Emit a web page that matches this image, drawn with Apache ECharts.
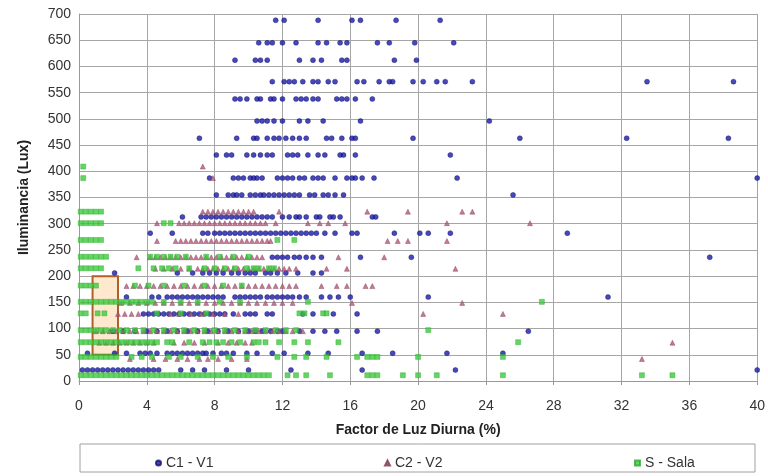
<!DOCTYPE html>
<html>
<head>
<meta charset="utf-8">
<script src="https://cdn.jsdelivr.net/npm/echarts@6/dist/echarts.min.js"></script>
<style>
  html, body { margin: 0; padding: 0; background: #ffffff; }
  #chart { width: 768px; height: 476px; }
</style>
</head>
<body>
<div id="chart"></div>
<script>
// Daylight factor (%) against measured illuminance (lux), grouped by measured level.
// Each row: [illuminance in lux, [daylight factor values recorded at that level]]
const c1v1Rows = [
  [688, [11.6, 12.1, 14.1, 16.1, 16.6, 18.7, 21.3]],
  [645, [10.6, 11.1, 11.4, 12.0, 12.8, 14.1, 14.6, 15.4, 15.8, 17.6, 18.3, 19.8, 22.1]],
  [612, [9.2, 10.4, 10.7, 11.1, 13.0, 13.8, 14.3, 15.5, 15.8, 18.6, 19.9]],
  [571, [11.4, 12.1, 12.4, 12.7, 13.2, 13.8, 14.1, 14.7, 15.1, 16.4, 16.8, 17.7, 18.3, 18.5, 19.7, 20.3, 21.1, 21.6, 23.2, 33.5, 38.6]],
  [538, [9.2, 9.5, 9.9, 10.5, 10.7, 11.3, 11.5, 12.0, 12.8, 13.1, 13.4, 13.8, 14.1, 15.2, 15.5, 15.8, 16.3, 17.3]],
  [496, [10.5, 10.8, 11.1, 11.5, 12.0, 13.0, 13.5, 14.4, 16.6, 24.2]],
  [463, [7.1, 9.3, 10.3, 10.5, 11.1, 11.5, 11.8, 12.2, 12.6, 13.0, 13.4, 14.6, 14.9, 15.5, 16.1, 16.3, 19.7, 26.0, 32.3, 38.3]],
  [431, [8.1, 8.7, 9.0, 9.9, 10.3, 10.7, 11.1, 11.4, 12.3, 12.6, 12.9, 13.5, 14.1, 14.5, 15.4, 15.6, 16.3, 21.9]],
  [387, [7.7, 9.1, 9.4, 9.7, 10.1, 10.3, 10.5, 10.8, 11.7, 12.0, 12.3, 12.6, 13.0, 13.3, 13.8, 14.1, 14.4, 15.1, 15.8, 16.1, 16.3, 16.7, 17.4, 22.3, 40.0]],
  [355, [8.1, 8.8, 9.1, 9.3, 9.6, 10.1, 10.4, 10.7, 10.9, 11.2, 11.5, 11.8, 12.1, 12.4, 12.7, 13.0, 13.6, 13.9, 14.4, 14.7, 15.1, 15.6, 25.6]],
  [313, [6.1, 7.2, 7.5, 7.8, 8.1, 8.4, 8.7, 9.0, 9.3, 9.6, 9.9, 10.2, 10.5, 10.8, 11.1, 11.4, 12.0, 12.4, 12.8, 13.0, 13.4, 14.0, 14.2, 14.8, 15.0, 15.4, 17.3, 17.5]],
  [282, [4.2, 5.5, 7.3, 7.6, 8.0, 8.3, 8.6, 8.9, 9.2, 9.5, 9.8, 10.1, 10.4, 10.7, 11.0, 11.3, 11.6, 11.9, 12.2, 12.5, 12.8, 13.1, 13.4, 13.7, 14.0, 14.5, 15.1, 16.1, 16.4, 18.6, 20.1, 20.6, 21.9, 28.8]],
  [236, [11.4, 11.7, 12.0, 12.3, 12.7, 13.0, 13.4, 13.8, 14.3, 16.6, 19.6, 37.2]],
  [206, [2.1, 5.8, 6.7, 7.3, 7.7, 8.1, 8.5, 9.0, 9.4, 9.8, 10.1, 10.4, 11.0, 11.3, 11.7, 12.2, 12.9, 13.8, 14.3]],
  [160, [2.8, 4.3, 4.7, 5.2, 5.5, 5.8, 6.1, 6.4, 6.7, 7.0, 7.3, 7.6, 7.9, 8.2, 8.5, 9.2, 9.5, 9.8, 10.1, 10.4, 10.7, 11.1, 11.4, 11.7, 12.0, 12.3, 12.6, 13.0, 13.4, 14.3, 14.8, 15.3, 16.0, 20.6, 31.2]],
  [128, [3.8, 4.1, 4.4, 4.7, 5.0, 5.3, 5.6, 5.9, 6.2, 6.5, 6.8, 7.1, 7.4, 7.7, 8.0, 8.3, 8.6, 9.1, 9.8, 10.1, 10.4, 11.1, 11.4, 13.2, 13.8, 15.0, 16.4]],
  [95, [2.0, 2.6, 3.3, 4.0, 4.6, 5.2, 5.8, 6.4, 7.0, 7.6, 8.2, 8.8, 9.4, 10.0, 10.4, 10.8, 11.3, 11.7, 12.0, 13.0, 13.8, 14.5, 15.2, 16.4, 17.6, 26.5]],
  [53, [0.5, 2.1, 2.8, 3.6, 3.9, 4.2, 4.6, 5.2, 5.5, 5.8, 6.1, 6.4, 6.7, 7.0, 7.3, 7.5, 7.9, 8.4, 8.7, 9.1, 9.9, 10.5, 11.4, 12.1, 13.5, 14.7, 16.7, 18.5, 21.7, 25.0]],
  [21, [0.2, 0.5, 0.8, 1.1, 1.4, 1.7, 2.0, 2.3, 2.6, 2.9, 3.2, 3.5, 3.8, 4.1, 4.4, 4.7, 6.0, 6.7, 7.4, 8.7, 10.0, 12.5, 16.7, 22.2, 40.0]]
];

const c2v2Rows = [
  [409, [7.3]],
  [387, [7.9]],
  [323, [7.3, 7.6, 7.9, 8.2, 8.5, 8.8, 9.1, 9.4, 9.7, 10.0, 10.3, 11.8, 17.0, 19.4, 22.6, 23.2]],
  [301, [4.6, 5.9, 6.2, 6.5, 6.8, 7.1, 7.4, 7.7, 8.0, 8.3, 8.6, 8.9, 9.2, 9.5, 9.8, 10.1, 10.4, 10.7, 11.0, 11.6, 13.5, 14.2, 14.7, 15.7, 21.7, 26.6]],
  [267, [4.6, 5.7, 6.0, 6.3, 6.6, 6.9, 7.2, 7.5, 7.8, 8.1, 8.4, 8.7, 9.0, 9.3, 9.6, 9.9, 10.2, 10.5, 10.8, 11.1, 11.3, 18.2, 18.8, 19.4, 21.7]],
  [236, [3.4, 4.2, 4.5, 4.8, 5.1, 5.4, 5.7, 6.0, 6.3, 6.6, 6.9, 7.2, 7.5, 7.8, 8.1, 8.4, 8.7, 9.0, 9.3, 9.6, 9.9, 10.2, 10.5, 10.8, 15.3, 18.0]],
  [214, [4.5, 5.0, 5.5, 6.0, 6.5, 7.0, 7.3, 7.6, 7.9, 8.2, 8.5, 8.8, 9.1, 9.4, 9.7, 10.0, 10.3, 10.6, 10.9, 11.2, 11.5, 11.8, 12.1, 12.4, 12.8, 14.6, 15.8, 22.2]],
  [181, [2.8, 3.2, 3.6, 4.0, 4.4, 4.8, 5.2, 5.6, 6.0, 6.4, 6.8, 7.2, 7.6, 8.0, 8.4, 8.8, 9.2, 9.6, 10.0, 10.4, 10.8, 11.2, 11.6, 12.0, 12.4, 12.8, 14.3, 15.2, 15.8, 16.9, 17.3]],
  [149, [2.5, 3.0, 3.5, 4.0, 4.5, 5.0, 5.5, 6.0, 6.5, 7.0, 7.5, 8.0, 8.5, 9.0, 9.5, 10.0, 10.5, 11.0, 11.5, 12.0, 12.6, 16.1, 22.6]],
  [128, [2.3, 2.7, 3.1, 3.5, 5.4, 5.9, 6.6, 7.2, 7.9, 8.6, 9.4, 20.3, 25.0]],
  [95, [1.0, 1.4, 1.8, 2.2, 2.6, 3.0, 3.4, 3.8, 4.2, 4.6, 5.0, 5.4, 5.8, 6.2, 6.6, 7.0, 7.4, 7.8, 8.2, 8.6, 9.0, 9.4, 9.8, 10.2, 10.6, 11.0, 11.4, 11.8, 12.2, 12.6, 13.2]],
  [73, [1.2, 1.6, 2.0, 2.4, 2.8, 3.2, 3.6, 4.0, 4.4, 5.6, 6.2, 6.8, 7.4, 8.2, 8.8, 9.3, 9.8, 10.2, 35.0]],
  [42, [3.0, 4.4, 5.1, 5.8, 6.4, 7.1, 7.6, 8.2, 9.0, 9.9, 33.2]]
];

const salaRows = [
  [409, [0.25]],
  [387, [0.25]],
  [323, [0.1, 0.4, 0.7, 1.0, 1.3]],
  [301, [0.1, 0.4, 0.7, 1.0, 1.3, 5.0, 5.4]],
  [269, [0.1, 0.4, 0.7, 1.0, 1.3, 11.7, 12.7]],
  [237, [0.1, 0.4, 0.7, 1.0, 1.3, 1.6, 4.2, 4.6, 5.0, 5.4, 5.8, 6.3, 7.5, 8.3, 9.1, 10.0]],
  [215, [0.1, 0.4, 0.7, 1.0, 1.3, 3.5, 4.4, 4.9, 5.3, 5.7, 6.5, 7.4, 8.0, 8.6, 9.2, 9.9, 10.3, 10.6, 11.2, 11.5]],
  [182, [0.1, 0.4, 0.7, 1.0, 3.3, 4.1, 5.0, 6.2, 7.4, 8.5, 9.6]],
  [151, [0.1, 0.4, 0.7, 1.0, 1.3, 1.6, 1.9, 2.2, 2.5, 2.8, 3.1, 3.4, 3.7, 4.0, 4.3, 5.0, 6.0, 7.0, 8.3, 9.5, 13.5, 27.3]],
  [129, [0.1, 0.4, 1.1, 1.5, 4.6, 6.0, 7.5, 13.0, 13.3, 14.4, 14.6]],
  [97, [0.1, 0.4, 0.7, 1.0, 1.3, 1.6, 2.0, 2.4, 2.8, 3.3, 3.8, 4.4, 5.0, 5.6, 6.2, 6.8, 7.4, 8.0, 8.6, 9.2, 9.8, 10.4, 11.0, 11.6, 12.2, 12.8, 20.6]],
  [74, [0.1, 0.4, 0.7, 1.0, 1.3, 1.6, 1.9, 2.2, 2.5, 2.8, 3.1, 3.4, 3.7, 4.0, 4.3, 4.6, 5.2, 5.5, 6.5, 7.3, 7.7, 8.1, 8.5, 9.0, 9.5, 10.3, 10.6, 11.0, 11.8, 12.7, 13.5, 15.3, 25.9]],
  [46, [0.1, 0.4, 0.7, 1.0, 1.3, 1.6, 1.9, 2.2, 3.1, 3.7, 4.3, 5.3, 6.0, 7.0, 7.9, 8.8, 9.9, 11.7, 12.7, 13.4, 14.6, 16.4, 17.0, 17.3, 17.6, 20.0, 25.0]],
  [11, [0.1, 0.4, 0.7, 1.0, 1.3, 1.6, 1.9, 2.2, 2.5, 2.8, 3.1, 3.4, 3.7, 4.0, 4.3, 4.6, 4.9, 5.2, 5.5, 5.8, 6.1, 6.4, 6.7, 7.0, 7.3, 7.6, 7.9, 8.2, 8.5, 8.8, 9.1, 9.4, 9.7, 10.0, 10.3, 10.6, 10.9, 11.2, 12.3, 12.8, 13.4, 14.8, 17.0, 17.3, 17.6, 19.1, 20.0, 21.1, 25.0, 33.2, 35.0]]
];

// Highlighted zone: daylight factor range (%) and illuminance range (lux)
const highlightFactor = [0.8, 2.3];
const highlightLux = [50, 200];

// Axis ticks
const xTicks = [0, 4, 8, 12, 16, 20, 24, 28, 32, 36, 40];
const yTicks = [0, 50, 100, 150, 200, 250, 300, 350, 400, 450, 500, 550, 600, 650, 700];

const seriesNames = ['C1 - V1', 'C2 - V2', 'S - Sala'];

function toPoints(rows) {
  const pts = [];
  rows.forEach(([lux, factors]) => factors.forEach(f => pts.push([f, lux])));
  return pts;
}

const FONT = '"Liberation Sans", Arial, sans-serif';
const chart = echarts.init(document.getElementById('chart'), null, { renderer: 'canvas' });

const legendBase = {
  top: 451,
  itemWidth: 5,
  itemHeight: 5,
  textStyle: { fontFamily: FONT, fontSize: 14, color: '#333' }
};

chart.setOption({
  backgroundColor: '#ffffff',
  animation: false,
  grid: { left: 79, right: 10, top: 14, bottom: 95 },
  xAxis: {
    type: 'value',
    min: xTicks[0],
    max: xTicks[xTicks.length - 1],
    interval: xTicks[1] - xTicks[0],
    name: 'Factor de Luz Diurna (%)',
    nameLocation: 'middle',
    nameGap: 42,
    nameTextStyle: { fontFamily: FONT, fontSize: 14, fontWeight: 'bold', color: '#222' },
    axisLine: { lineStyle: { color: '#999', width: 1 } },
    axisTick: { show: true, length: 4, lineStyle: { color: '#999' } },
    axisLabel: { margin: 18, fontFamily: FONT, fontSize: 14, color: '#333' },
    splitLine: { show: true, lineStyle: { color: '#a6a6a6', width: 1 } }
  },
  yAxis: {
    type: 'value',
    min: yTicks[0],
    max: yTicks[yTicks.length - 1],
    interval: yTicks[1] - yTicks[0],
    name: 'Iluminancia (Lux)',
    nameLocation: 'middle',
    nameGap: 48,
    nameTextStyle: { fontFamily: FONT, fontSize: 14, fontWeight: 'bold', color: '#222' },
    axisLine: { show: true, lineStyle: { color: '#999', width: 1 } },
    axisTick: { show: false },
    axisLabel: { margin: 8, fontFamily: FONT, fontSize: 14, color: '#333' },
    splitLine: { show: true, lineStyle: { color: '#a6a6a6', width: 1 } }
  },
  legend: [
    Object.assign({ data: [seriesNames[0]], left: 150 }, legendBase),
    Object.assign({ data: [seriesNames[1]], left: 379 }, legendBase),
    Object.assign({ data: [seriesNames[2]], left: 629 }, legendBase)
  ],
  graphic: [{
    type: 'rect',
    shape: { x: 80, y: 444, width: 675, height: 28 },
    style: { fill: 'none', stroke: '#a0a0a0', lineWidth: 1 },
    silent: true
  }],
  series: [
    {
      name: seriesNames[0],
      type: 'scatter',
      symbol: 'circle',
      symbolSize: 5,
      itemStyle: { color: '#1a1aa6', borderColor: '#10106e', borderWidth: 0.5 },
      data: toPoints(c1v1Rows),
      z: 2
    },
    {
      name: seriesNames[1],
      type: 'scatter',
      symbol: 'triangle',
      symbolSize: 5,
      itemStyle: { color: '#b5587c', borderColor: '#7a3a50', borderWidth: 0.5 },
      data: toPoints(c2v2Rows),
      z: 3
    },
    {
      name: seriesNames[2],
      type: 'scatter',
      symbol: 'rect',
      symbolSize: 5,
      itemStyle: { color: '#3ccb3c', borderColor: '#2aa82a', borderWidth: 0.5 },
      data: toPoints(salaRows),
      z: 4
    },
    {
      name: 'zona',
      type: 'scatter',
      data: [],
      z: 5,
      markArea: {
        silent: true,
        itemStyle: { color: 'rgba(253, 226, 190, 0.75)', borderColor: '#b0602a', borderWidth: 2 },
        data: [[
          { coord: [highlightFactor[0], highlightLux[1]] },
          { coord: [highlightFactor[1], highlightLux[0]] }
        ]]
      }
    }
  ]
});
</script>
</body>
</html>
